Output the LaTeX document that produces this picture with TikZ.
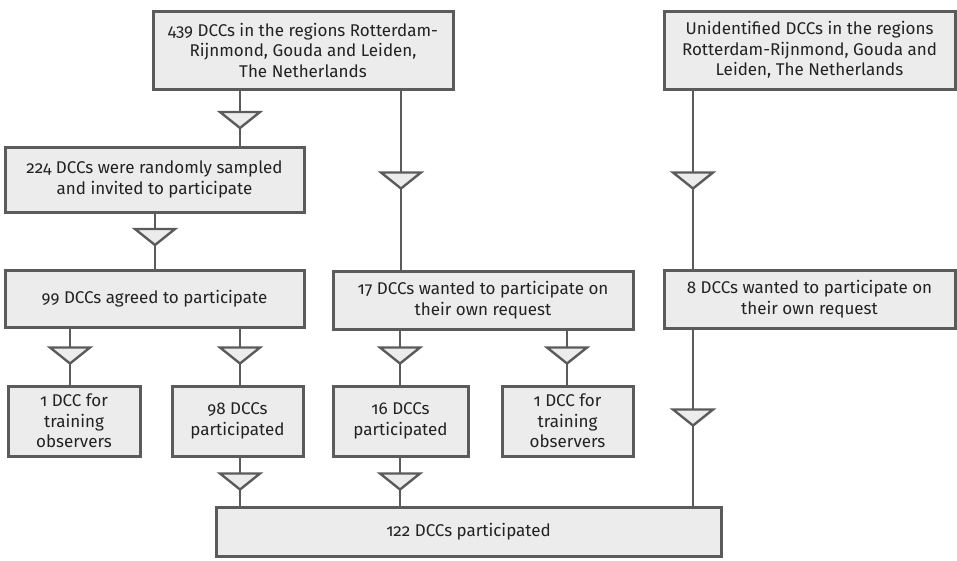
\documentclass[tikz,border=0pt]{standalone}
\usepackage{fontspec}
\setmainfont{Fira Sans}[Numbers=OldStyle]
\usepackage{tikz}
\usetikzlibrary{positioning}
\definecolor{BoxFill}{HTML}{EBECEB}
\definecolor{Edge}{HTML}{5B5B5B}
\definecolor{Ink}{HTML}{222222}

\begin{document}
\begin{tikzpicture}[x=1pt,y=-1pt,
  stage/.style={draw=Edge,line width=3pt,fill=BoxFill,text=Ink,align=center,inner sep=0pt,
    font=\fontsize{17}{20.5}\selectfont},
  wide/.style={stage,minimum width=#1},
  link/.style={draw=Edge,line width=2.4pt},
  pics/drop/.style={code={
    \draw[draw=Edge,fill=BoxFill,line width=2.4pt,line join=miter] (-20pt,8pt) -- (20pt,8pt) -- (0pt,-8pt) -- cycle;}}
]
\useasboundingbox (0,0) rectangle (957,560);

% top row
\node[wide=300pt,minimum height=78pt] (src) at (303,50) {439 DCCs in the regions Rotterdam-\\Rijnmond, Gouda and Leiden,\\The Netherlands};
\node[wide=291pt,minimum height=78pt] (unk) at (809.5,50) {Unidentified DCCs in the regions\\Rotterdam-Rijnmond, Gouda and\\Leiden, The Netherlands};

% sampling
\node[wide=299pt,minimum height=65pt] (smp) at (154.5,179.5) {224 DCCs were randomly sampled\\and invited to participate};
\node[wide=299pt,minimum height=57pt] (agr) at (154.5,298.5) {99 DCCs agreed to participate};
\node[wide=300pt,minimum height=58pt] (own) at (483,300) {17 DCCs wanted to participate on\\their own request};
\node[wide=291pt,minimum height=58pt] (own2) at (809.5,299) {8 DCCs wanted to participate on\\their own request};

% outcomes
\node[wide=132pt,minimum height=70pt] (trn1) at (74,421) {1 DCC for\\training\\observers};
\node[wide=131pt,minimum height=70pt] (par1) at (237.5,421) {98 DCCs\\participated};
\node[wide=135pt,minimum height=70pt] (par2) at (400.5,421) {16 DCCs\\participated};
\node[wide=131pt,minimum height=70pt] (trn2) at (567.5,421) {1 DCC for\\training\\observers};
\node[wide=505pt,minimum height=49pt] (tot) at (468.5,531.5) {122 DCCs participated};

% connector marks
\coordinate (m1) at (240,120);
\coordinate (m2) at (401,180.5);
\coordinate (m3) at (693,180.5);
\coordinate (m4) at (693,417.5);
\coordinate (m5) at (155,237);
\coordinate (m6) at (70,355.5);
\coordinate (m7) at (240,355.5);
\coordinate (m8) at (400,355.5);
\coordinate (m9) at (567,355.5);
\coordinate (m10) at (240,481.5);
\coordinate (m11) at (400,481.5);

\draw[link] (src.south -| m1) -- (smp.north -| m1);
\draw[link] (src.south -| m2) -- (own.north -| m2);
\draw[link] (unk.south -| m3) -- (own2.north -| m3);
\draw[link] (own2.south -| m4) -- (tot.north -| m4);
\draw[link] (smp.south -| m5) -- (agr.north -| m5);
\draw[link] (agr.south -| m6) -- (trn1.north -| m6);
\draw[link] (agr.south -| m7) -- (par1.north -| m7);
\draw[link] (own.south -| m8) -- (par2.north -| m8);
\draw[link] (own.south -| m9) -- (trn2.north -| m9);
\draw[link] (par1.south -| m10) -- (tot.north -| m10);
\draw[link] (par2.south -| m11) -- (tot.north -| m11);

\foreach \m in {m1,m2,m3,m4,m5,m6,m7,m8,m9,m10,m11}
  \pic at (\m) {drop};
\end{tikzpicture}
\end{document}
